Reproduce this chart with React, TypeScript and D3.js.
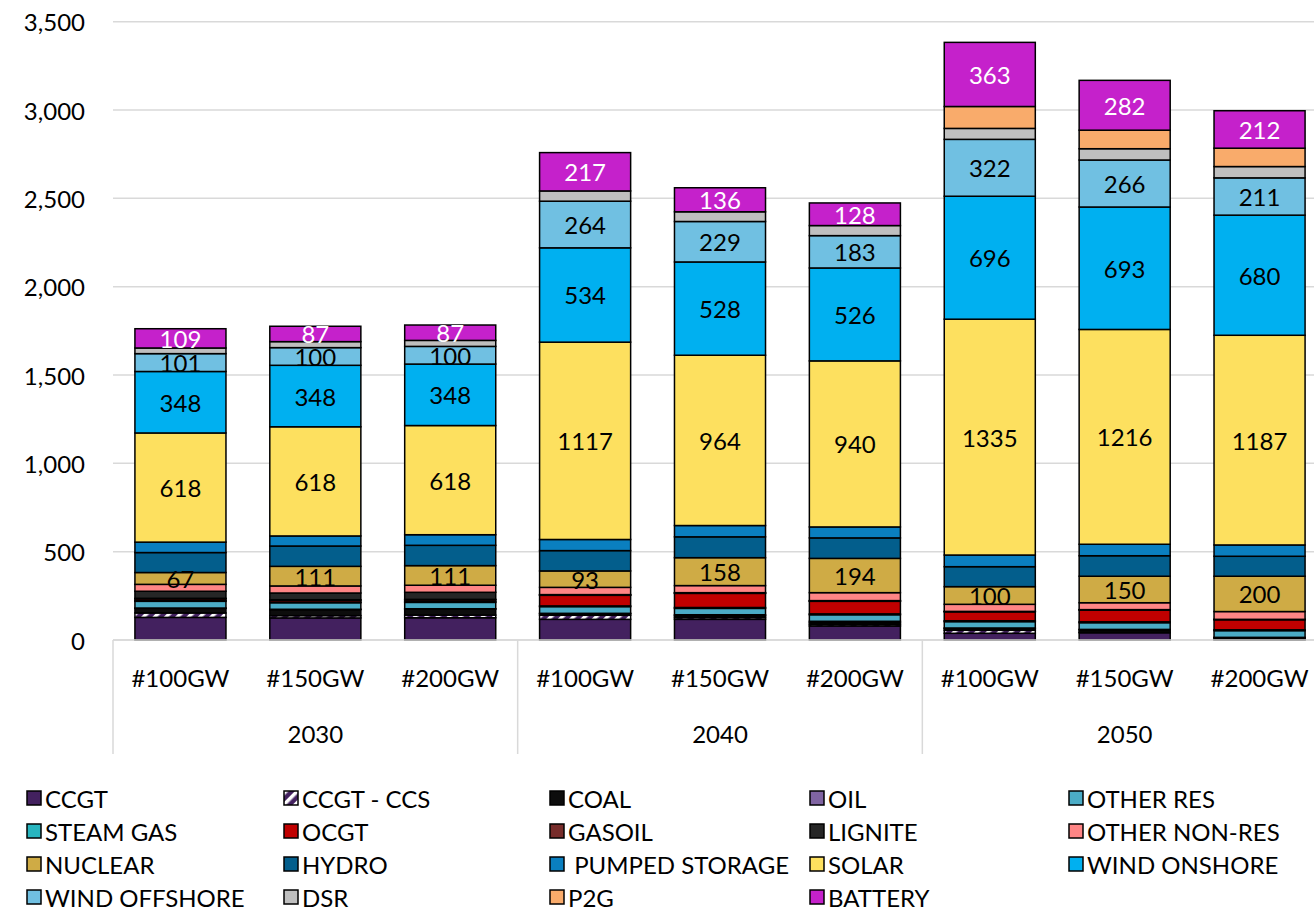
import React, { useEffect } from 'react';
import * as d3 from 'd3';

// ---------- data ----------
const years = ['2030', '2040', '2050'];
const scenarios = ['#100GW', '#150GW', '#200GW'];
const yTicks = [0, 500, 1000, 1500, 2000, 2500, 3000, 3500];

const seriesNames = [
  'CCGT', 'CCGT - CCS', 'COAL', 'OIL', 'OTHER RES',
  'STEAM GAS', 'OCGT', 'GASOIL', 'LIGNITE', 'OTHER NON-RES',
  'NUCLEAR', 'HYDRO', ' PUMPED STORAGE', 'SOLAR', 'WIND ONSHORE',
  'WIND OFFSHORE', 'DSR', 'P2G', 'BATTERY',
];

// values per category: 2030 #100/#150/#200, 2040 #100/#150/#200, 2050 #100/#150/#200
const CCGT = [128, 125, 126, 117, 117, 79, 38, 41, 2];
const CCGT_CCS = [25, 13, 15, 23, 10, 9, 17, 4, 3];
const COAL = [26, 34, 34, 9, 10, 10, 10, 12, 8];
const OIL = [2, 2, 2, 2, 6, 8, 3, 3, 2];
const OTHER_RES = [38, 37, 36, 38, 36, 37, 36, 38, 38];
const STEAM_GAS = [4, 4, 4, 4, 5, 5, 5, 5, 5];
const OCGT = [10, 10, 10, 60, 80, 71, 51, 67, 57];
const GASOIL = [3, 3, 3, 2, 2, 2, 1, 1, 1];
const LIGNITE = [40, 38, 40, 2, 2, 2, 1, 1, 1];
const OTHER_NON_RES = [39, 40, 40, 41, 40, 45, 40, 39, 44];
const NUCLEAR = [67, 111, 111, 93, 158, 194, 100, 150, 200];
const HYDRO = [113, 115, 115, 115, 118, 116, 113, 116, 113];
const PUMPED_STORAGE = [59, 57, 60, 63, 64, 62, 66, 65, 64];
const SOLAR = [618, 618, 618, 1117, 964, 940, 1335, 1216, 1187];
const WIND_ONSHORE = [348, 348, 348, 534, 528, 526, 696, 693, 680];
const WIND_OFFSHORE = [101, 100, 100, 264, 229, 183, 322, 266, 211];
const DSR = [32, 34, 34, 58, 55, 57, 62, 64, 64];
const P2G = [0, 0, 0, 0, 0, 0, 124, 105, 104];
const BATTERY = [109, 87, 87, 217, 136, 128, 363, 282, 212];

const seriesValues = [
  CCGT, CCGT_CCS, COAL, OIL, OTHER_RES,
  STEAM_GAS, OCGT, GASOIL, LIGNITE, OTHER_NON_RES,
  NUCLEAR, HYDRO, PUMPED_STORAGE, SOLAR, WIND_ONSHORE,
  WIND_OFFSHORE, DSR, P2G, BATTERY,
];

const labelledSeries = ['NUCLEAR', 'SOLAR', 'WIND ONSHORE', 'WIND OFFSHORE', 'BATTERY'];

// ---------- styles ----------
const seriesColors = [
  '#43215f', 'url(#ccsHatch)', '#0d0d0d', '#8064a2', '#4bacc6',
  '#27b5bf', '#c00000', '#772c2a', '#262626', '#ff8585',
  '#cfab45', '#035e8c', '#0a7fc0', '#fde05f', '#00b0f0',
  '#70c0e2', '#bfbfbf', '#f9ab6b', '#c521cb',
];
const FONT = 'Lato, "Liberation Sans", sans-serif';
const W = 1314;
const H = 909;

const keys = years.flatMap((y) => scenarios.map((s) => `${y}|${s}`));

export default function App() {
  useEffect(() => {
    document.body.style.margin = '0';
  }, []);

  const x = d3.scaleBand<string>().domain(keys).range([113, 1327]).paddingInner(0.325).paddingOuter(0.1625);
  const y = d3.scaleLinear().domain([0, 3500]).range([640, 21.7]);

  const rows = keys.map((k, i) => {
    const r: Record<string, number | string> = { key: k };
    seriesNames.forEach((n, j) => (r[n] = seriesValues[j][i]));
    return r;
  });
  const stack = d3.stack<any>().keys(seriesNames)(rows as any);

  const step = x.step();
  const groupEdges = years.map((_, gi) => 113 + gi * 3 * step);

  return (
    <svg width={W} height={H} style={{ position: 'absolute', left: 0, top: 0, background: '#fff' }} fontFamily={FONT}>
      <defs>
        <pattern id="ccsHatch" patternUnits="userSpaceOnUse" width="8" height="8" patternTransform="rotate(45)">
          <rect width="8" height="8" fill="#43215f" />
          <rect x="0" y="0" width="3.5" height="8" fill="#ffffff" />
        </pattern>
      </defs>
      <rect width={W} height={H} fill="#fff" />
      {/* gridlines */}
      {yTicks.map((t) => (
        <line key={t} x1={113} x2={W} y1={y(t)} y2={y(t)} stroke="#d9d9d9" strokeWidth={1.5} />
      ))}
      {/* y tick labels */}
      {yTicks.map((t) => (
        <text key={'l' + t} x={85} y={y(t)} textAnchor="end" dominantBaseline="central" fontSize={24} fill="#000">
          {d3.format(',')(t)}
        </text>
      ))}
      {/* group separators */}
      {groupEdges.map((gx, i) => (
        <line key={'sep' + i} x1={gx} x2={gx} y1={640} y2={754} stroke="#d9d9d9" strokeWidth={1.5} />
      ))}
      {/* bars */}
      {stack.map((s, si) => (
        <g key={seriesNames[si]}>
          {s.map((d, ci) => {
            const v = d[1] - d[0];
            if (v <= 0) return null;
            return (
              <rect
                key={ci}
                x={x(keys[ci])!}
                y={y(d[1])}
                width={x.bandwidth()}
                height={y(d[0]) - y(d[1])}
                fill={seriesColors[si]}
                stroke="#000"
                strokeWidth={1.5}
              />
            );
          })}
        </g>
      ))}
      {/* data labels */}
      {stack.map((s, si) =>
        labelledSeries.includes(seriesNames[si])
          ? s.map((d, ci) => {
              const v = d[1] - d[0];
              if (v <= 0) return null;
              return (
                <text
                  key={seriesNames[si] + ci}
                  x={x(keys[ci])! + x.bandwidth() / 2}
                  y={(y(d[0]) + y(d[1])) / 2}
                  textAnchor="middle"
                  dominantBaseline="central"
                  fontSize={24}
                  fill={seriesNames[si] === 'BATTERY' ? '#fff' : '#000'}
                >
                  {v}
                </text>
              );
            })
          : null
      )}
      {/* axis line */}
      <line x1={113} x2={W} y1={640} y2={640} stroke="#d9d9d9" strokeWidth={1.5} />
      {/* category labels */}
      {keys.map((k) => (
        <text key={'c' + k} x={x(k)! + x.bandwidth() / 2} y={687} textAnchor="middle" fontSize={24} fill="#000">
          {k.split('|')[1]}
        </text>
      ))}
      {years.map((yr, gi) => (
        <text key={'y' + yr} x={groupEdges[gi] + 1.5 * step} y={743} textAnchor="middle" fontSize={24} fill="#000">
          {yr}
        </text>
      ))}
      {/* legend */}
      {seriesNames.map((n, i) => {
        const col = i % 5;
        const row = Math.floor(i / 5);
        const lx = [27, 284, 550, 810, 1069][col];
        const ly = 798 + row * 33;
        return (
          <g key={'lg' + n}>
            <rect x={lx} y={ly - 7} width={14} height={14} fill={seriesColors[i]} stroke="#000" strokeWidth={1.5} />
            <text x={lx + 18} y={ly} dominantBaseline="central" fontSize={24} fill="#000" style={{ whiteSpace: 'pre' }}>
              {n}
            </text>
          </g>
        );
      })}
    </svg>
  );
}
